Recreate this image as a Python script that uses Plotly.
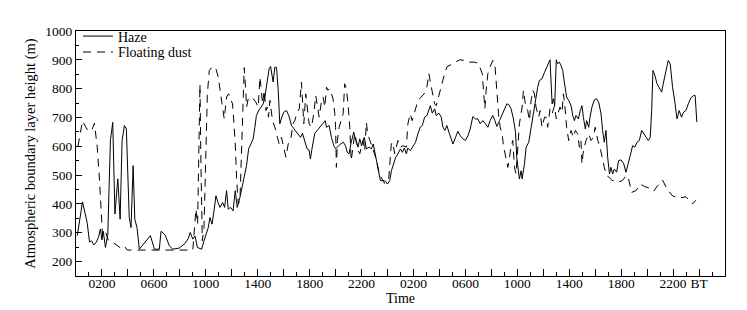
import plotly.graph_objects as go

# Hours elapsed from 0000 BT of day 1
haze_hours = [0.1, 0.5, 0.86, 1.04, 1.2, 1.37, 1.55, 1.73, 1.88, 2.0, 2.1, 2.27, 2.45, 2.65, 2.83, 3.0, 3.22, 3.4, 3.55, 3.73, 3.88, 4.04, 4.1, 4.24, 4.4, 4.53, 4.7, 4.88, 5.27, 5.73, 6.04, 6.42, 6.55, 6.86, 7.19, 7.45, 7.96, 8.2, 8.4, 8.65, 8.8, 9.0, 9.17, 9.35, 9.68, 9.86, 10.0, 10.19, 10.32, 10.48, 10.65, 10.78, 10.94, 11.09, 11.3, 11.45, 11.6, 11.73, 11.91, 12.1, 12.27, 12.42, 12.63, 12.83, 13.0, 13.14, 13.3, 13.47, 13.65, 13.78, 13.9, 14.1, 14.27, 14.42, 14.55, 14.73, 14.88, 14.99, 15.06, 15.19, 15.32, 15.45, 15.58, 15.7, 15.86, 16.0, 16.22, 16.42, 16.6, 16.8, 16.93, 17.1, 17.3, 17.45, 17.63, 17.8, 17.96, 18.06, 18.2, 18.4, 18.58, 18.78, 18.99, 19.2, 19.3, 19.5, 19.68, 19.86, 20.0, 20.2, 20.37, 20.6, 20.76, 20.9, 21.04, 21.2, 21.4, 21.55, 21.73, 21.86, 22.0, 22.2, 22.37, 22.58, 22.76, 22.9, 23.1, 23.27, 23.45, 23.65, 23.86, 24.0, 24.17, 24.3, 24.47, 24.63, 24.8, 25.0, 25.14, 25.3, 25.45, 25.57, 25.75, 25.96, 26.16, 26.34, 26.52, 26.68, 26.86, 27.04, 27.19, 27.3, 27.45, 27.63, 27.75, 27.96, 28.14, 28.27, 28.42, 28.57, 28.73, 28.9, 29.04, 29.24, 29.42, 29.6, 29.8, 30.0, 30.2, 30.37, 30.57, 30.78, 30.96, 31.14, 31.34, 31.55, 31.73, 31.9, 32.11, 32.27, 32.42, 32.63, 32.83, 33.0, 33.19, 33.34, 33.52, 33.7, 33.86, 33.96, 34.03, 34.16, 34.29, 34.37, 34.55, 34.68, 34.88, 35.06, 35.24, 35.4, 35.57, 35.7, 35.9, 36.1, 36.27, 36.42, 36.52, 36.68, 36.78, 36.88, 37.0, 37.1, 37.24, 37.37, 37.5, 37.62, 37.8, 37.96, 38.14, 38.27, 38.4, 38.52, 38.7, 38.85, 38.98, 39.09, 39.24, 39.34, 39.5, 39.6, 39.75, 39.93, 40.1, 40.27, 40.45, 40.57, 40.7, 40.83, 40.96, 41.1, 41.21, 41.34, 41.47, 41.65, 41.8, 41.99, 42.2, 42.37, 42.55, 42.7, 42.88, 43.06, 43.22, 43.4, 43.58, 43.73, 43.91, 44.09, 44.24, 44.35, 44.45, 44.6, 44.76, 44.94, 45.12, 45.27, 45.45, 45.63, 45.78, 45.96, 46.14, 46.3, 46.47, 46.65, 46.8, 46.99, 47.17, 47.37, 47.58, 47.7, 47.83]
haze_values = [290, 407, 335, 268, 272, 258, 266, 284, 313, 275, 305, 249, 295, 620, 683, 365, 487, 347, 620, 672, 660, 400, 353, 318, 533, 347, 318, 243, 266, 290, 243, 243, 305, 293, 255, 243, 247, 255, 263, 280, 301, 278, 289, 249, 243, 272, 295, 318, 353, 330, 382, 428, 405, 388, 405, 388, 446, 382, 388, 376, 446, 388, 423, 463, 504, 533, 591, 608, 626, 666, 707, 726, 736, 747, 771, 817, 869, 877, 857, 823, 875, 873, 794, 678, 701, 718, 724, 703, 672, 660, 655, 643, 631, 645, 614, 591, 587, 556, 597, 645, 655, 666, 678, 689, 666, 672, 631, 602, 591, 602, 608, 614, 602, 579, 574, 614, 649, 620, 597, 626, 602, 631, 591, 597, 591, 608, 562, 515, 481, 481, 478, 469, 481, 515, 544, 562, 574, 591, 579, 594, 574, 594, 585, 602, 614, 643, 666, 672, 701, 707, 730, 741, 715, 730, 707, 715, 701, 666, 655, 672, 649, 626, 608, 631, 652, 637, 626, 620, 637, 660, 703, 695, 695, 678, 689, 678, 666, 689, 707, 689, 669, 689, 710, 730, 747, 745, 730, 695, 649, 560, 530, 487, 515, 487, 539, 597, 614, 666, 724, 765, 805, 828, 834, 857, 875, 892, 900, 747, 765, 741, 900, 886, 892, 880, 863, 823, 771, 759, 741, 707, 689, 707, 695, 724, 741, 701, 660, 689, 666, 701, 736, 761, 765, 753, 713, 655, 614, 655, 562, 504, 527, 504, 521, 510, 550, 553, 539, 510, 539, 568, 602, 597, 614, 620, 655, 645, 631, 620, 631, 724, 863, 846, 817, 800, 788, 823, 863, 898, 886, 805, 753, 695, 724, 701, 718, 724, 747, 768, 776, 776, 684]

dust_hours = [0.15, 0.5, 0.83, 1.2, 1.42, 1.63, 1.8, 1.96, 2.05, 2.3, 2.5, 2.8, 3.2, 3.5, 3.75, 3.95, 9.0, 9.04, 9.24, 9.37, 9.47, 9.55, 9.63, 9.73, 9.86, 10.0, 10.12, 10.27, 10.53, 10.78, 10.96, 11.14, 11.3, 11.42, 11.6, 11.76, 11.9, 12.06, 12.17, 12.27, 12.37, 12.5, 12.63, 12.76, 12.88, 12.96, 13.06, 13.14, 13.27, 13.45, 13.65, 13.86, 14.04, 14.17, 14.24, 14.37, 14.5, 14.63, 14.73, 14.83, 14.94, 15.04, 15.14, 15.32, 15.5, 15.65, 15.83, 16.0, 16.17, 16.35, 16.53, 16.73, 16.86, 17.0, 17.2, 17.37, 17.45, 17.55, 17.7, 17.8, 17.96, 18.14, 18.32, 18.47, 18.58, 18.73, 18.9, 19.04, 19.17, 19.3, 19.42, 19.55, 19.68, 19.8, 19.94, 20.0, 20.06, 20.14, 20.27, 20.45, 20.58, 20.7, 20.83, 20.96, 21.09, 21.2, 21.35, 21.47, 21.6, 21.73, 21.86, 22.0, 22.1, 22.24, 22.37, 22.47, 22.8, 23.1, 23.4, 23.8, 24.1, 24.29, 24.4, 24.55, 24.8, 25.0, 25.19, 25.45, 25.57, 25.75, 25.9, 26.09, 26.27, 26.47, 26.68, 26.86, 27.04, 27.19, 27.3, 27.45, 27.63, 27.75, 27.88, 28.0, 28.14, 28.27, 28.4, 28.57, 28.78, 29.0, 29.24, 29.55, 29.93, 30.19, 30.7, 31.0, 31.3, 31.42, 31.5, 31.6, 31.73, 31.9, 32.11, 32.27, 32.42, 32.55, 32.68, 32.83, 32.93, 33.09, 33.27, 33.4, 33.52, 33.65, 33.78, 33.9, 34.16, 34.37, 34.47, 34.62, 34.8, 34.93, 35.06, 35.2, 35.32, 35.44, 35.65, 35.75, 35.9, 36.1, 36.22, 36.34, 36.52, 36.68, 36.86, 37.0, 37.14, 37.29, 37.45, 37.55, 37.65, 37.8, 37.96, 38.14, 38.32, 38.47, 38.65, 38.78, 38.9, 38.98, 39.09, 39.29, 39.5, 39.68, 39.86, 40.0, 40.1, 40.2, 40.37, 40.52, 40.7, 40.88, 41.09, 41.3, 41.47, 41.65, 41.85, 42.1, 42.37, 42.55, 42.8, 43.14, 43.47, 43.83, 44.17, 44.5, 44.8, 45.19, 45.53, 45.96, 46.47, 46.99, 47.5, 47.76]
dust_values = [600, 688, 660, 653, 680, 600, 490, 380, 285, 300, 273, 268, 255, 245, 252, 240, 240, 260, 382, 330, 550, 815, 527, 272, 318, 550, 782, 863, 877, 869, 840, 782, 736, 695, 771, 782, 765, 747, 678, 608, 492, 400, 411, 573, 782, 873, 805, 736, 765, 771, 765, 753, 736, 840, 811, 747, 794, 724, 736, 701, 759, 713, 689, 666, 631, 608, 631, 597, 562, 608, 620, 680, 689, 713, 730, 823, 759, 678, 782, 736, 678, 666, 713, 776, 736, 701, 753, 771, 736, 805, 794, 800, 782, 765, 713, 666, 527, 620, 666, 689, 713, 817, 800, 747, 666, 550, 597, 643, 620, 585, 574, 602, 620, 585, 683, 643, 600, 560, 500, 470, 490, 608, 614, 574, 620, 597, 602, 597, 678, 713, 689, 724, 747, 765, 776, 784, 808, 852, 823, 782, 747, 741, 765, 782, 805, 828, 852, 875, 880, 886, 892, 900, 898, 892, 892, 888, 852, 794, 730, 794, 852, 875, 898, 886, 782, 713, 666, 643, 602, 562, 527, 562, 602, 620, 527, 504, 678, 736, 794, 747, 724, 689, 759, 794, 782, 736, 701, 724, 666, 701, 701, 666, 730, 713, 741, 695, 718, 736, 718, 782, 747, 666, 620, 655, 631, 655, 643, 597, 620, 539, 585, 620, 643, 620, 631, 666, 643, 620, 597, 562, 527, 498, 492, 481, 481, 475, 478, 481, 498, 492, 440, 446, 469, 460, 455, 444, 463, 483, 452, 428, 420, 425, 400, 413]

tick_hours = list(range(0, 50, 2))
label_map = {2: "0200", 6: "0600", 10: "1000", 14: "1400", 18: "1800", 22: "2200",
             26: "0200", 30: "0600", 34: "1000", 38: "1400", 42: "1800", 46: "2200", 48: "BT"}
tick_text = [label_map.get(h, "") for h in tick_hours]

FONT = "Liberation Serif"

fig = go.Figure()
fig.add_trace(go.Scatter(x=haze_hours, y=haze_values, mode="lines", name="Haze",
                         line=dict(color="black", width=1), legend="legend"))
fig.add_trace(go.Scatter(x=dust_hours, y=dust_values, mode="lines", name="Floating dust",
                         line=dict(color="black", width=1, dash="8px,6px"), legend="legend2"))

legend_common = dict(xanchor="left", yanchor="top", bgcolor="rgba(0,0,0,0)",
                     font=dict(family=FONT, size=14), itemwidth=30)

fig.update_layout(
    width=747, height=310,
    margin=dict(l=68, r=30, t=23, b=42),
    paper_bgcolor="white", plot_bgcolor="white",
    font=dict(family=FONT, size=13.5, color="black"),
    showlegend=True,
    legend=dict(x=0.003, y=1.043, **legend_common),
    legend2=dict(x=0.003, y=0.978, **legend_common),
    xaxis=dict(range=[0, 50], tickmode="array", tickvals=tick_hours, ticktext=tick_text,
               ticks="inside", ticklen=7, tickwidth=1, tickcolor="black",
               minor=dict(dtick=1, tick0=0, ticks="inside", ticklen=4, tickwidth=1, tickcolor="black"),
               showgrid=False, zeroline=False, showline=True, linecolor="black", linewidth=1,
               mirror=True, ticklabelstandoff=-5,
               title=dict(text="Time", standoff=0, font=dict(size=14))),
    yaxis=dict(range=[150, 1000], tickmode="linear", tick0=0, dtick=100,
               ticks="inside", ticklen=6, tickwidth=1, tickcolor="black",
               minor=dict(dtick=50, tick0=0, ticks="inside", ticklen=3, tickwidth=1, tickcolor="black"),
               showgrid=False, zeroline=False, showline=True, linecolor="black", linewidth=1,
               mirror=True,
               title=dict(text="Atmospheric boundary layer height (m)", standoff=6, font=dict(size=14.5))),
)

fig.write_html("out.html")
